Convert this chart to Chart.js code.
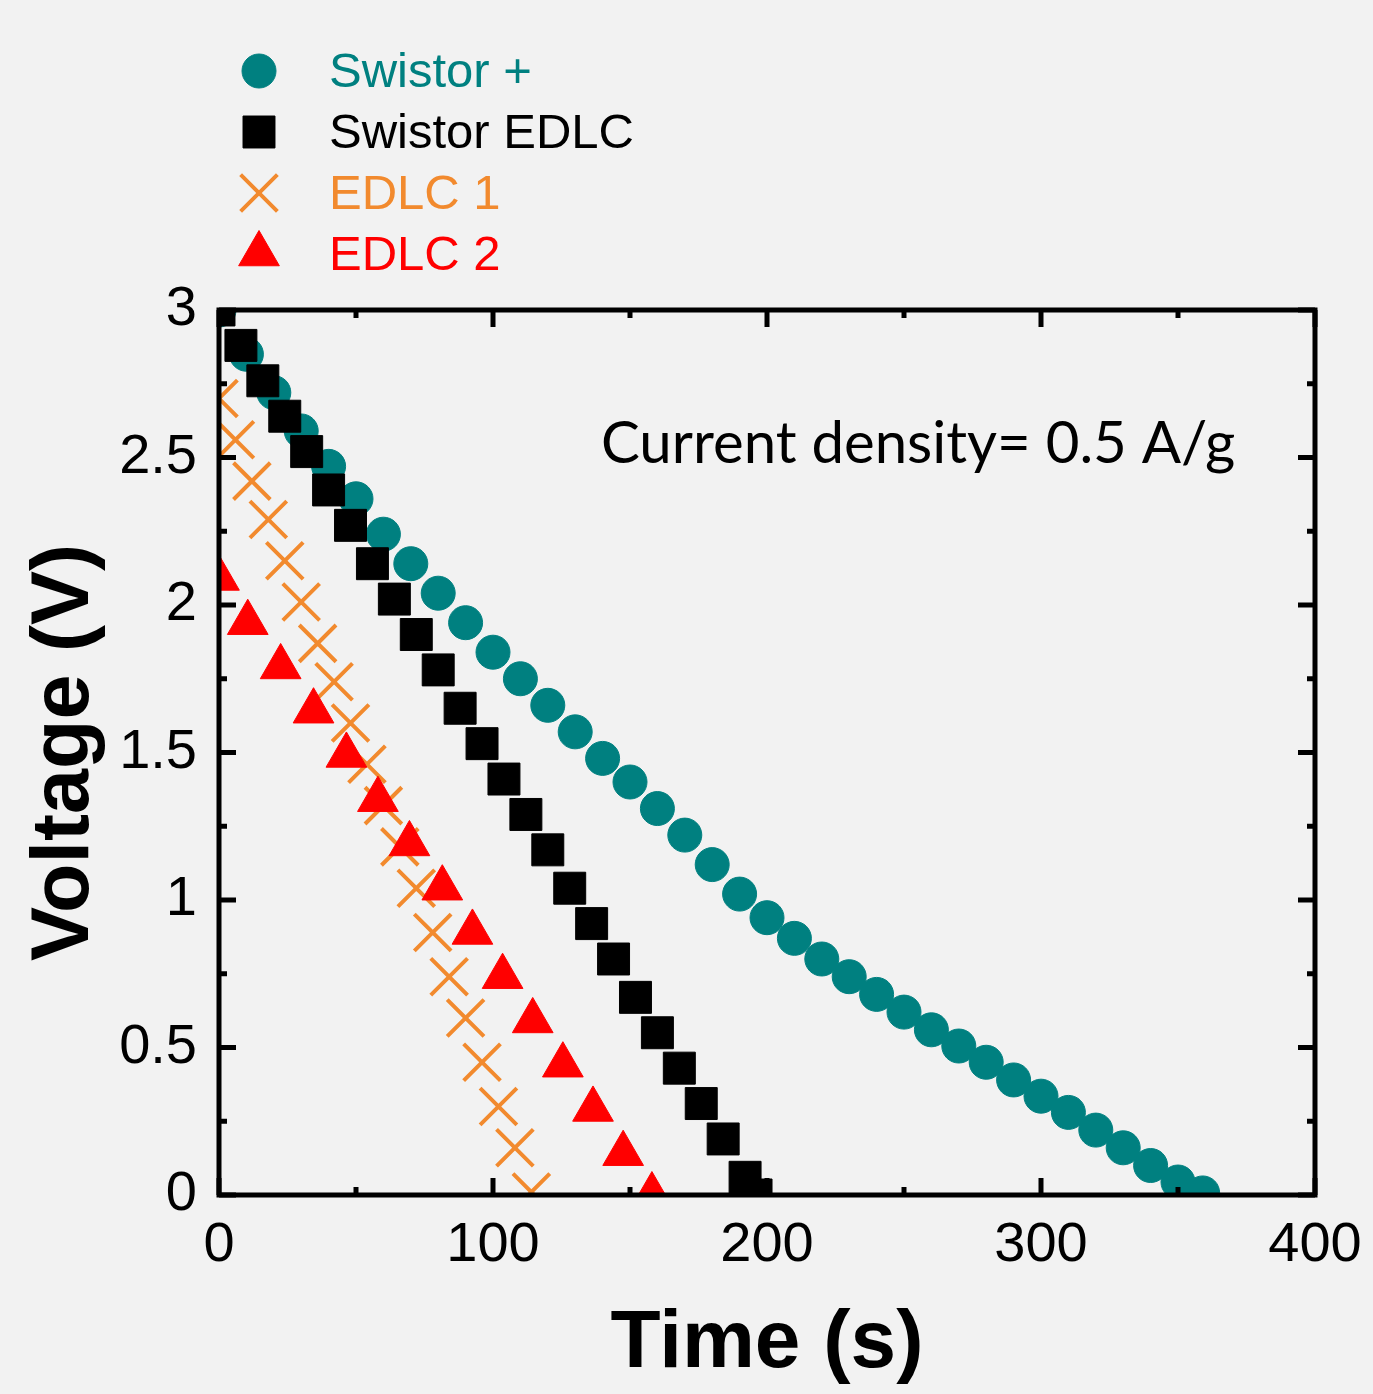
<!DOCTYPE html>
<html>
<head>
<meta charset="utf-8">
<script src="https://cdn.jsdelivr.net/npm/chart.js@4.4.1/dist/chart.umd.min.js"></script>
<style>
  html, body { margin: 0; padding: 0; background: #f2f2f2; }
  #wrap { width: 1373px; height: 1394px; }
</style>
</head>
<body>
<div id="wrap"><canvas id="chart"></canvas></div>
<script>
// 放電曲線データ
const swistorPlusTime = [0, 10, 20, 30, 40, 50, 60, 70, 80, 90, 100, 110, 120, 130, 140, 150, 160, 170, 180,
  190, 200, 210, 220, 230, 240, 250, 260, 270, 280, 290, 300, 310, 320, 330, 340, 350, 359];
const swistorPlusV = [3.00, 2.85, 2.72, 2.59, 2.47, 2.36, 2.24, 2.14, 2.04, 1.94, 1.84, 1.75, 1.66, 1.57, 1.48, 1.40, 1.31, 1.22, 1.12,
  1.02, 0.94, 0.87, 0.80, 0.74, 0.68, 0.62, 0.56, 0.505, 0.45, 0.39, 0.335, 0.28, 0.22, 0.16, 0.10, 0.044, 0.007];

const swistorEdlcTime = [0, 8, 16, 24, 32, 40, 48, 56, 64, 72, 80, 88, 96, 104, 112, 120, 128, 136, 144, 152, 160, 168, 176, 184, 192, 196];
const swistorEdlcV = [3.00, 2.88, 2.76, 2.64, 2.52, 2.39, 2.27, 2.14, 2.02, 1.90, 1.78, 1.65, 1.53, 1.41, 1.29, 1.17, 1.04, 0.92, 0.80, 0.67, 0.55, 0.43, 0.31, 0.19, 0.06, 0.0];

const edlc1Time = [0, 6, 12, 18, 24, 30, 36, 42, 48, 54, 60, 66, 72, 78, 84, 90, 96, 102, 108, 114];
const edlc1V = [2.70, 2.56, 2.42, 2.29, 2.15, 2.01, 1.87, 1.74, 1.60, 1.46, 1.32, 1.18, 1.04, 0.89, 0.74, 0.60, 0.45, 0.30, 0.16, 0.01];

const edlc2Time = [0, 10.5, 22.5, 34.5, 46.5, 58, 69.5, 81.5, 92.5, 103.5, 114.5, 125.5, 136.5, 147.5, 158];
const edlc2V = [2.09, 1.94, 1.79, 1.64, 1.49, 1.34, 1.19, 1.04, 0.89, 0.74, 0.59, 0.44, 0.29, 0.14, 0.0];

const seriesLabels = ['Swistor +', 'Swistor EDLC', 'EDLC 1', 'EDLC 2'];
const annotationText = 'Current density= 0.5 A/g';

const COLORS = {
  teal: '#008080',
  black: '#000000',
  orange: '#F28A2E',
  red: '#FF0000'
};
const AXIS_FONT = "'Liberation Sans', Arial, sans-serif";

const toPoints = (xs, ys) => xs.map((x, i) => ({ x: x, y: ys[i] }));

// 枠線・内向き目盛り・凡例・注記を描くプラグイン
const framePlugin = {
  id: 'framePlugin',
  afterDatasetsDraw(chart) {
    const { ctx, chartArea: a, scales: { x, y } } = chart;
    ctx.save();
    ctx.strokeStyle = '#000';
    ctx.lineWidth = 5;
    ctx.lineCap = 'butt';
    ctx.strokeRect(a.left, a.top, a.right - a.left, a.bottom - a.top);

    const line = (x1, y1, x2, y2) => {
      ctx.beginPath();
      ctx.moveTo(x1, y1);
      ctx.lineTo(x2, y2);
      ctx.stroke();
    };

    // x軸の目盛り（主・副）
    const xt = x.ticks.map(t => t.value);
    xt.forEach((v, i) => {
      const px = x.getPixelForValue(v);
      line(px, a.bottom, px, a.bottom - 17);
      line(px, a.top, px, a.top + 17);
      if (i < xt.length - 1) {
        const mx = x.getPixelForValue((v + xt[i + 1]) / 2);
        line(mx, a.bottom, mx, a.bottom - 8);
        line(mx, a.top, mx, a.top + 8);
      }
    });

    // y軸の目盛り（主・副）
    const yt = y.ticks.map(t => t.value);
    yt.forEach((v, i) => {
      const py = y.getPixelForValue(v);
      line(a.left, py, a.left + 17, py);
      line(a.right, py, a.right - 17, py);
      if (i < yt.length - 1) {
        const my = y.getPixelForValue((v + yt[i + 1]) / 2);
        line(a.left, my, a.left + 8, my);
        line(a.right, my, a.right - 8, my);
      }
    });
    ctx.restore();
  },
  afterDraw(chart) {
    const { ctx } = chart;
    ctx.save();

    // 凡例
    chart.data.datasets.forEach((ds, i) => {
      const cy = 71 + i * 61;
      ctx.fillStyle = ds.pointBackgroundColor;
      ctx.strokeStyle = ds.pointBorderColor;
      ctx.lineWidth = ds.pointBorderWidth;
      Chart.helpers.drawPoint(ctx, {
        pointStyle: ds.pointStyle,
        radius: ds.pointRadius,
        rotation: 0,
        borderWidth: ds.pointBorderWidth
      }, 259, cy);

      ctx.font = '49px ' + AXIS_FONT;
      ctx.fillStyle = ds.legendColor;
      ctx.textAlign = 'left';
      ctx.textBaseline = 'alphabetic';
      ctx.fillText(ds.label, 329, cy + 16);
    });

    // 注記
    ctx.font = "58px Lato, 'Open Sans', sans-serif";
    ctx.fillStyle = '#000';
    ctx.textAlign = 'left';
    ctx.textBaseline = 'alphabetic';
    const m = ctx.measureText(annotationText);
    const inkW = m.actualBoundingBoxLeft + m.actualBoundingBoxRight;
    ctx.translate(603, 463);
    ctx.scale(631 / inkW, 1);
    ctx.fillText(annotationText, m.actualBoundingBoxLeft, 0);
    ctx.restore();
  }
};

const datasets = [
  {
    label: seriesLabels[0],
    data: toPoints(swistorPlusTime, swistorPlusV),
    pointStyle: 'circle',
    pointRadius: 17,
    pointBorderWidth: 1,
    pointBackgroundColor: COLORS.teal,
    pointBorderColor: COLORS.teal,
    legendColor: COLORS.teal,
    order: 4
  },
  {
    label: seriesLabels[1],
    data: toPoints(swistorEdlcTime, swistorEdlcV),
    pointStyle: 'rect',
    pointRadius: 22.6,
    pointBorderWidth: 1,
    pointBackgroundColor: COLORS.black,
    pointBorderColor: COLORS.black,
    legendColor: COLORS.black,
    order: 3
  },
  {
    label: seriesLabels[2],
    data: toPoints(edlc1Time, edlc1V),
    pointStyle: 'crossRot',
    pointRadius: 26,
    pointBorderWidth: 4,
    pointBackgroundColor: COLORS.orange,
    pointBorderColor: COLORS.orange,
    legendColor: COLORS.orange,
    order: 2
  },
  {
    label: seriesLabels[3],
    data: toPoints(edlc2Time, edlc2V),
    pointStyle: 'triangle',
    pointRadius: 23.5,
    pointBorderWidth: 1,
    pointBackgroundColor: COLORS.red,
    pointBorderColor: COLORS.red,
    legendColor: COLORS.red,
    order: 1
  }
].map(ds => Object.assign(ds, { showLine: false, clip: 0, pointHoverRadius: ds.pointRadius }));

new Chart(document.getElementById('chart'), {
  type: 'scatter',
  data: { datasets: datasets },
  options: {
    responsive: true,
    maintainAspectRatio: false,
    animation: false,
    layout: { padding: { left: 0, top: 310, right: 58, bottom: 0 } },
    plugins: {
      legend: { display: false },
      tooltip: { enabled: false }
    },
    scales: {
      x: {
        type: 'linear',
        min: 0,
        max: 400,
        grid: { display: false },
        border: { display: false },
        ticks: {
          stepSize: 100,
          color: '#000',
          padding: 9,
          maxRotation: 0,
          font: { family: AXIS_FONT, size: 56 },
          callback: (v) => String(v)
        },
        title: {
          display: true,
          text: 'Time (s)',
          color: '#000',
          padding: { top: -8, bottom: 0 },
          font: { family: AXIS_FONT, size: 82, weight: 'bold' }
        },
        afterFit(scale) { scale.height = 199; }
      },
      y: {
        type: 'linear',
        min: 0,
        max: 3,
        grid: { display: false },
        border: { display: false },
        ticks: {
          stepSize: 0.5,
          color: '#000',
          padding: 14,
          font: { family: AXIS_FONT, size: 56 },
          callback: (v) => String(v)
        },
        title: {
          display: true,
          text: 'Voltage (V)',
          color: '#000',
          padding: { top: 17, bottom: 0 },
          font: { family: AXIS_FONT, size: 81, weight: 'bold' }
        },
        afterFit(scale) { scale.width = 219; }
      }
    }
  },
  plugins: [framePlugin]
});
</script>
</body>
</html>
